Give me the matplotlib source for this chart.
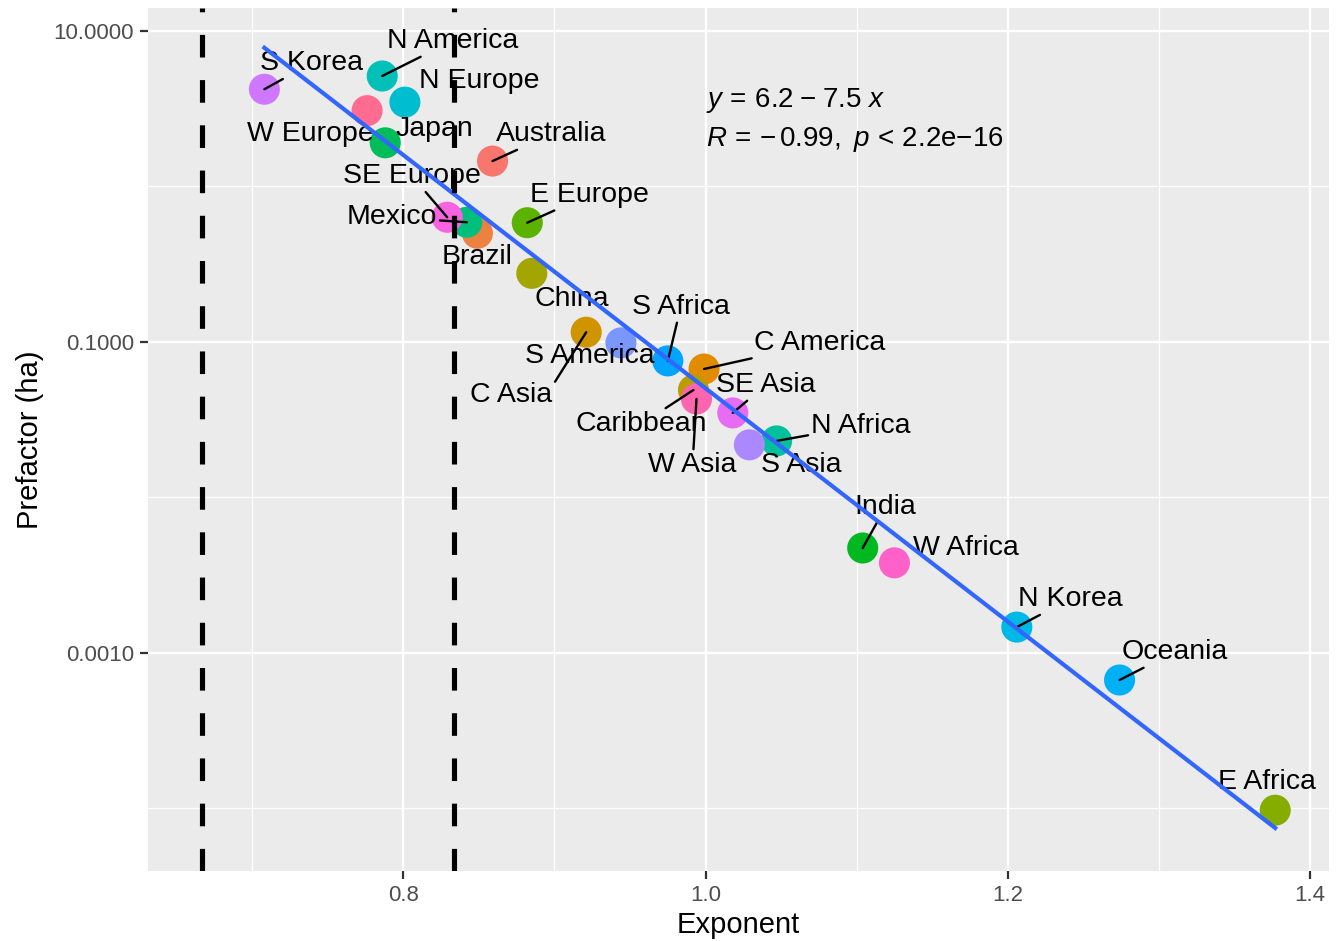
import numpy as np
import matplotlib
matplotlib.use('Agg')
import matplotlib.pyplot as plt
from matplotlib.ticker import FixedLocator, FuncFormatter

plt.rcParams['font.family'] = ['Liberation Sans', 'DejaVu Sans']
plt.rcParams['mathtext.fontset'] = 'custom'
plt.rcParams['mathtext.rm'] = 'Liberation Sans'
plt.rcParams['mathtext.it'] = 'Liberation Sans:italic'

# regional scaling fits: exponent and prefactor (ha)
regions = ['Australia', 'Brazil', 'C America', 'C Asia', 'Caribbean', 'China',
           'E Africa', 'E Europe', 'India', 'Japan', 'Mexico', 'N Africa',
           'N America', 'N Europe', 'N Korea', 'Oceania', 'S Africa',
           'S America', 'S Asia', 'S Korea', 'SE Asia', 'SE Europe',
           'W Africa', 'W Asia', 'W Europe']
exponent = [0.859, 0.849, 0.999, 0.921, 0.992, 0.885,
            1.377, 0.882, 1.104, 0.788, 0.842, 1.047,
            0.786, 0.801, 1.206, 1.274, 0.975,
            0.944, 1.029, 0.708, 1.018, 0.829,
            1.125, 0.994, 0.776]
prefactor = [1.45, 0.498, 0.0667, 0.115, 0.0489, 0.275,
             9.7e-5, 0.582, 0.00471, 1.90, 0.586, 0.0230,
             5.11, 3.47, 0.00146, 0.000667, 0.0752,
             0.0982, 0.0217, 4.20, 0.0348, 0.631,
             0.00378, 0.0428, 3.06]

# log10(prefactor) = intercept + slope * exponent
intercept = 6.2
slope = -7.5
r_value = -0.99
p_label = '2.2e-16'

x_ticks = [0.8, 1.0, 1.2, 1.4]
y_ticks = [1e-3, 1e-1, 1e1]

# label placement (pixels from the point), repel style
label_offset = {
    'Australia': (59, 30), 'Brazil': (0, -21), 'C America': (116, 29),
    'C Asia': (-75, -60), 'Caribbean': (-52, -31), 'China': (40, -23),
    'E Africa': (-8, 31), 'E Europe': (62, 31), 'India': (23, 44),
    'Japan': (49, 17), 'Mexico': (-75, 8), 'N Africa': (84, 18),
    'N America': (70, 38), 'N Europe': (74, 24), 'N Korea': (53, 31),
    'Oceania': (55, 31), 'S Africa': (13, 57), 'S America': (-31, -10),
    'S Asia': (52, -17), 'S Korea': (47, 29), 'SE Asia': (33, 31),
    'SE Europe': (-35, 44), 'W Africa': (71, 18), 'W Asia': (-4, -63),
    'W Europe': (-57, -20),
}
with_segment = {'Australia', 'C America', 'C Asia', 'Caribbean', 'E Europe',
                'India', 'Mexico', 'N Africa', 'N America', 'N Korea',
                'Oceania', 'S Africa', 'S Korea', 'SE Asia', 'SE Europe',
                'W Asia'}
segment_anchor = {'C Asia': (1.0, 0.85)}


def hcl_hex(h, c=100, l=65):
    hr = np.deg2rad(h)
    u, v = c * np.cos(hr), c * np.sin(hr)
    xn, yn, zn = 95.047, 100.0, 108.883
    y = yn * ((l + 16) / 116) ** 3
    den = xn + 15 * yn + 3 * zn
    up = u / (13 * l) + 4 * xn / den
    vp = v / (13 * l) + 9 * yn / den
    x = y * 9 * up / (4 * vp)
    z = y * (12 - 3 * up - 20 * vp) / (4 * vp)
    m = np.array([[3.240479, -1.537150, -0.498535],
                  [-0.969256, 1.875992, 0.041556],
                  [0.055648, -0.204043, 1.057311]])
    rgb = m @ (np.array([x, y, z]) / 100)
    rgb = np.where(rgb > 0.0031308, 1.055 * np.clip(rgb, 0, None) ** (1 / 2.4) - 0.055, 12.92 * rgb)
    return tuple(np.clip(rgb, 0, 1))


n = len(regions)
colors = [hcl_hex(15 + 360 * i / n) for i in range(n)]

fig = plt.figure(figsize=(13.42, 9.41), dpi=100)
ax = fig.add_axes([0.1103, 0.0747, 0.8800, 0.9165])
ax.set_facecolor('#EBEBEB')
for s in ax.spines.values():
    s.set_visible(False)

ax.set_yscale('log')
ax.set_xlim(0.631, 1.4126)
ax.set_ylim(3.96e-5, 13.93)

ax.xaxis.set_major_locator(FixedLocator(x_ticks))
ax.xaxis.set_minor_locator(FixedLocator([0.7, 0.9, 1.1, 1.3]))
ax.yaxis.set_major_locator(FixedLocator(y_ticks))
ax.yaxis.set_minor_locator(FixedLocator([1e-4, 1e-2, 1e0]))
ax.xaxis.set_major_formatter(FuncFormatter(lambda v, p: '%.1f' % v))
ax.yaxis.set_major_formatter(FuncFormatter(lambda v, p: '%.4f' % v))
ax.yaxis.set_minor_formatter(FuncFormatter(lambda v, p: ''))
ax.grid(which='major', color='white', lw=1.7)
ax.grid(which='minor', color='white', lw=0.9)
ax.set_axisbelow(True)
ax.tick_params(which='major', length=5.5, width=1.6, color='#333333',
               labelsize=16, labelcolor='#4D4D4D')
ax.tick_params(axis='y', which='major', pad=4.5)
ax.tick_params(axis='x', which='major', pad=4.5)
ax.tick_params(which='minor', length=0)

ax.scatter(exponent, prefactor, s=500, c=colors, linewidths=0, zorder=2)

for name, xv, yv in zip(regions, exponent, prefactor):
    props = None
    if name in with_segment:
        props = dict(arrowstyle='-', color='black', lw=1.7, shrinkA=0, shrinkB=0,
                     relpos=segment_anchor.get(name, (0.5, 0.5)))
    ax.annotate(name, (xv, yv), xytext=label_offset[name], textcoords='offset pixels',
                ha='center', va='center_baseline', fontsize=20.5, color='black',
                arrowprops=props, zorder=3)

xs = np.linspace(min(exponent), max(exponent), 50)
ax.plot(xs, 10 ** (intercept + slope * xs), color='#3366FF', lw=3.0, zorder=4)

sign = '{-}' if slope < 0 else '{+}'
ax.text(1.0, 3.24, r'$\mathit{y}\,{=}\,%.1f\;%s\;%.1f\ \mathit{x}$'
        % (intercept, sign, abs(slope)),
        fontsize=20, ha='left', va='baseline', zorder=3)
mant, ex = p_label.split('e')
ax.text(1.0, 1.81, r'$\mathit{R}\,{=}\,{-}\,%.2f,\ \mathit{p}\,{<}\,%s\mathrm{e}{-}%s$'
        % (abs(r_value), mant, ex.lstrip('-')),
        fontsize=20, ha='left', va='baseline', zorder=3)

for xv in (2 / 3, 5 / 6):
    ax.axvline(xv, color='black', lw=3.7, linestyle=(0, (4.4, 4.4)), zorder=5)

ax.set_xlabel('Exponent', fontsize=21, labelpad=4)
ax.set_ylabel('Prefactor (ha)', fontsize=21, labelpad=7)

fig.savefig('out.png', dpi=100)
